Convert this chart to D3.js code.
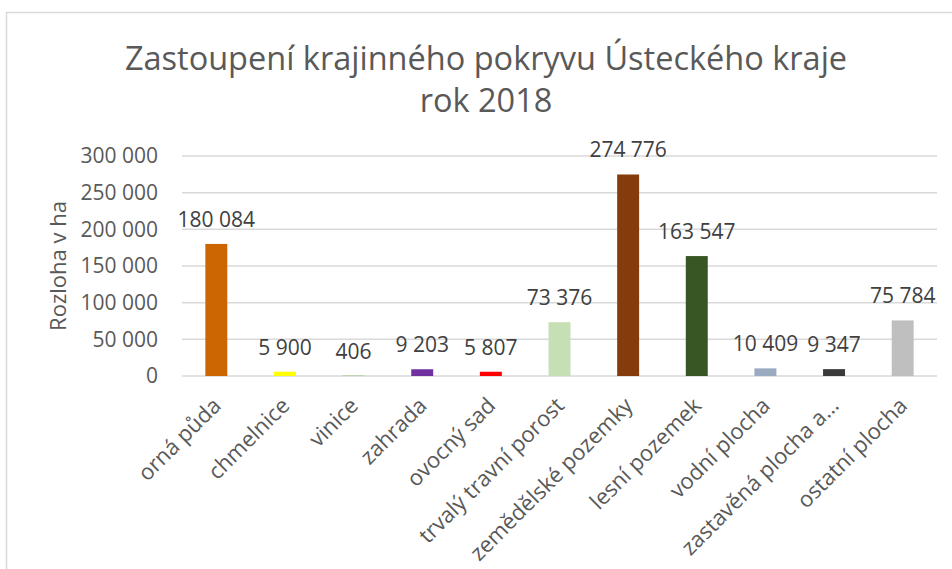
<!DOCTYPE html>
<html>
<head>
<meta charset="utf-8">
<script src="https://cdn.jsdelivr.net/npm/d3@7.9.0/dist/d3.min.js"></script>
<style>
  html, body { margin: 0; padding: 0; background: #fff; }
  svg { display: block; font-family: 'Open Sans', sans-serif; }
</style>
</head>
<body>
<svg id="chart" width="952" height="569"></svg>
<script>
// ---- data ----
const categories = [
  'orná půda', 'chmelnice', 'vinice', 'zahrada', 'ovocný sad',
  'trvalý travní porost', 'zemědělské pozemky', 'lesní pozemek',
  'vodní plocha', 'zastavěná plocha a…', 'ostatní plocha'
];
const values = [180084, 5900, 406, 9203, 5807, 73376, 274776, 163547, 10409, 9347, 75784];
const barColors = [
  '#CC6600', '#FFFF00', '#70AD47', '#7030A0', '#FF0000',
  '#C5E0B4', '#843C0C', '#375623', '#9AAAC0', '#3A3A3A', '#BFBFBF'
];
const yTicks = [0, 50000, 100000, 150000, 200000, 250000, 300000];
const titleLines = ['Zastoupení krajinného pokryvu Ústeckého kraje', 'rok 2018'];
const yTitle = 'Rozloha v ha';

// ---- layout ----
const svg = d3.select('#chart');
const plot = { left: 182, right: 937, top: 156, bottom: 376 };
const textColor = '#595959';
const fmt = v => d3.format(',')(v).replace(/,/g, ' ');

// chart frame
svg.append('rect')
  .attr('x', 6.5).attr('y', 12.5)
  .attr('width', 1000).attr('height', 1000)
  .attr('fill', '#fff')
  .attr('stroke', '#D9D9D9')
  .attr('stroke-width', 1.5);

const x = d3.scaleBand()
  .domain(categories)
  .range([plot.left, plot.right])
  .paddingInner(0.68)
  .paddingOuter(0.34);

const y = d3.scaleLinear()
  .domain([0, 300000])
  .range([plot.bottom, plot.top]);

// gridlines
svg.append('g')
  .selectAll('line')
  .data(yTicks)
  .join('line')
  .attr('x1', plot.left).attr('x2', plot.right)
  .attr('y1', d => y(d)).attr('y2', d => y(d))
  .attr('stroke', '#D9D9D9')
  .attr('stroke-width', 1.5);

// y tick labels
svg.append('g')
  .selectAll('text')
  .data(yTicks)
  .join('text')
  .attr('x', 158)
  .attr('y', d => y(d))
  .attr('dy', '0.35em')
  .attr('text-anchor', 'end')
  .attr('fill', textColor)
  .attr('font-size', 21)
  .text(d => fmt(d));

// bars
svg.append('g')
  .selectAll('rect')
  .data(values)
  .join('rect')
  .attr('x', (d, i) => x(categories[i]))
  .attr('width', x.bandwidth())
  .attr('y', d => y(d))
  .attr('height', d => y(0) - y(d))
  .attr('fill', (d, i) => barColors[i]);

// value labels
svg.append('g')
  .selectAll('text')
  .data(values)
  .join('text')
  .attr('x', (d, i) => x(categories[i]) + x.bandwidth() / 2)
  .attr('y', d => y(d) - 17)
  .attr('text-anchor', 'middle')
  .attr('fill', '#404040')
  .attr('font-size', 21)
  .text(d => fmt(d));

// x category labels, rotated
svg.append('g')
  .selectAll('text')
  .data(categories)
  .join('text')
  .attr('transform', d => `translate(${x(d) + x.bandwidth() / 2 + 6},${plot.bottom + 31}) rotate(-45)`)
  .attr('text-anchor', 'end')
  .attr('fill', textColor)
  .attr('font-size', 22)
  .text(d => d);

// y axis title
svg.append('text')
  .attr('transform', `translate(58,${(plot.top + plot.bottom) / 2}) rotate(-90)`)
  .attr('text-anchor', 'middle')
  .attr('dy', '0.35em')
  .attr('fill', textColor)
  .attr('font-size', 22)
  .text(yTitle);

// title
svg.append('g')
  .selectAll('text')
  .data(titleLines)
  .join('text')
  .attr('x', 486)
  .attr('y', (d, i) => 70 + i * 42)
  .attr('text-anchor', 'middle')
  .attr('fill', textColor)
  .attr('font-size', 32.5)
  .text(d => d);
</script>
</body>
</html>
